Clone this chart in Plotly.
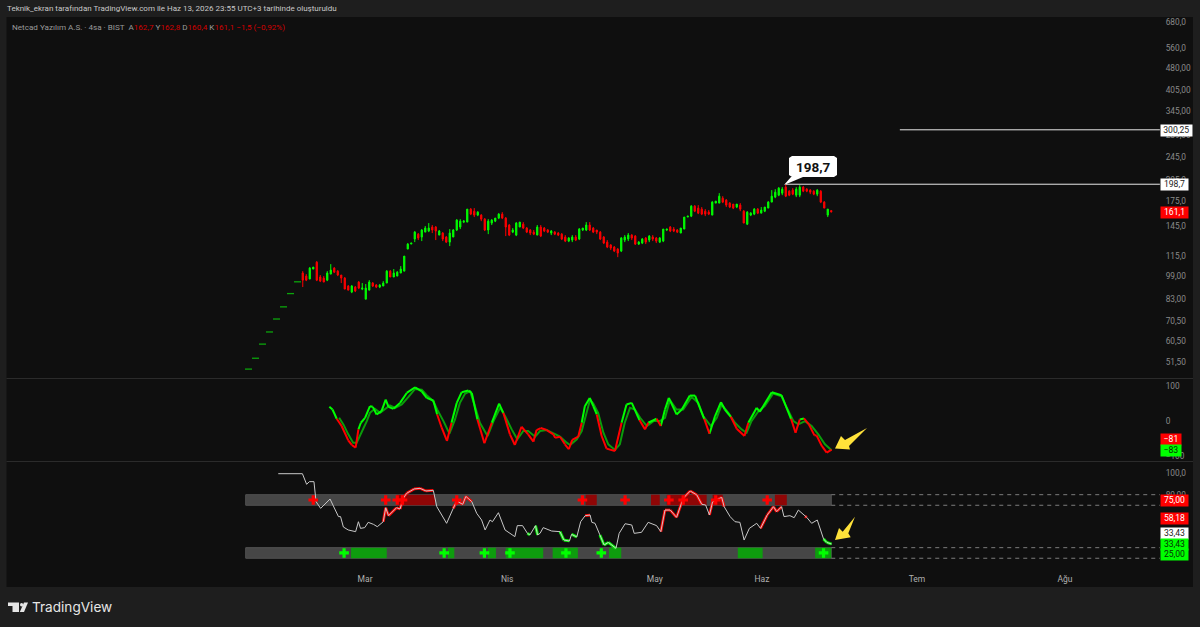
import plotly.graph_objects as go
from plotly.subplots import make_subplots

W, H = 1200, 627
BG, PANEL = '#1e1e1e', '#0f0f0f'
GREEN, RED = '#00ff00', '#ff0000'
LABEL = '#8a8a8a'
FONT = 'Roboto, Liberation Sans, sans-serif'

# --- price pane, 4h bars (one entry per bar)
opens = [
  48.7, 48.7, 52.9, 52.9, 58.9, 58.9, 64.6, 64.6, 71.3, 71.3, 78.2, 78.2, 86.5, 86.5, 94.6, 94.6,
  101.3, 99, 96.8, 104.4, 110, 98.3, 97.5, 96, 100.5, 105.2,
  102.8, 99.8, 97.5, 91.8, 87.7, 91.1, 94.6, 89.7, 83.1, 89,
  93.9, 92.5, 91.1, 91.8, 93.9, 102.8, 98.3, 99, 101.3, 102.8,
  121.5, 126.2, 131.1, 136.1, 133.1, 138.2, 139.3, 143.6, 143.6, 135.1,
  137.2, 133.1, 128.1, 133.1, 140.4, 143.6, 149.1, 149.1, 164.5, 162,
  157.2, 157.2, 152.5, 140.4, 148, 150.2, 153.7, 158.4, 153.7, 145.8,
  138.2, 135.1, 143.6, 146.8, 142.5, 140.4, 138.2, 135.1, 143.6, 142.5,
  140.4, 137.2, 138.2, 137.2, 136.1, 133.1, 129.1, 130.1, 133.1, 131.1,
  140.4, 140.4, 145.8, 142.5, 140.4, 138.2, 133.1, 128.1, 125.3, 123.4,
  121.5, 119.7, 130.1, 131.1, 135.1, 134.1, 126.2, 127.2, 132.1, 130.1,
  133.1, 132.1, 128.1, 129.1, 140.4, 143.6, 141.4, 140.4, 137.2, 141.4,
  154.9, 156, 168.3, 165.8, 164.5, 162, 160.8, 157.2, 172.2, 172.2,
  178.8, 176.2, 172.2, 170.9, 167.1, 169.6, 162, 146.8, 157.2, 158.4,
  164.5, 159.6, 162, 165.8, 173.5, 180.2, 182.9, 185.7, 194.4, 188.5,
  190, 182.9, 182.9, 194.4, 191.4, 190, 188.5, 184.3, 188.5, 173.5,
  157.2, 162.7]
highs = [
  48.9, 48.9, 53.1, 53.1, 59.1, 59.1, 64.8, 64.8, 71.5, 71.5, 78.4, 78.4, 86.7, 86.7, 94.8, 94.8,
  102.8, 100.5, 106, 106, 110.9, 99.8, 99, 102.8, 108.4, 106,
  103.6, 99.8, 98.3, 92.5, 92.5, 91.8, 95.3, 93.9, 93.2, 96,
  94.6, 93.2, 93.2, 95.3, 103.6, 103.6, 104.4, 102.8, 106.8, 115.2,
  127.2, 127.2, 139.3, 137.2, 141.4, 144.7, 148, 145.8, 144.7, 140.4,
  138.2, 134.1, 141.4, 141.4, 152.5, 152.5, 151.4, 164.5, 165.8, 165.8,
  162, 158.4, 153.7, 152.5, 152.5, 153.7, 159.6, 160.8, 154.9, 146.8,
  142.5, 149.1, 149.1, 149.1, 143.6, 141.4, 140.4, 145.8, 145.8, 143.6,
  141.4, 140.4, 139.3, 138.2, 137.2, 135.1, 133.1, 135.1, 135.1, 142.5,
  142.5, 149.1, 149.1, 143.6, 140.4, 139.3, 134.1, 130.1, 126.2, 124.3,
  122.4, 133.1, 135.1, 137.2, 136.1, 135.1, 129.1, 132.1, 133.1, 135.1,
  135.1, 133.1, 133.1, 141.4, 141.4, 144.7, 143.6, 141.4, 142.5, 154.9,
  156, 169.6, 169.6, 169.6, 167.1, 164.5, 163.3, 174.8, 174.8, 185.7,
  181.5, 177.5, 173.5, 170.9, 170.9, 172.2, 163.3, 162, 160.8, 165.8,
  165.8, 167.1, 167.1, 174.8, 190, 191.4, 194.4, 194.4, 198.7, 190,
  192.9, 194.4, 197.4, 195.9, 192.9, 191.4, 190, 191.4, 190, 174.8,
  164.5, 162.8]
lows = [
  48.7, 48.7, 52.9, 52.9, 58.9, 58.9, 64.6, 64.6, 71.3, 71.3, 78.2, 78.2, 86.5, 86.5, 94.6, 94.6,
  91.1, 95.3, 96.8, 104.4, 95.3, 94.6, 94.6, 95.3, 100.5, 101.3,
  99, 93.9, 89.7, 89, 87, 87.7, 89.7, 89, 83.1, 89,
  91.1, 90.4, 90.4, 91.8, 93.9, 98.3, 98.3, 99, 101.3, 102.8,
  121.5, 126.2, 128.1, 130.1, 129.1, 138.2, 138.2, 137.2, 130.1, 135.1,
  129.1, 127.2, 124.3, 133.1, 139.3, 141.4, 148, 149.1, 157.2, 154.9,
  156, 150.2, 139.3, 136.1, 145.8, 149.1, 152.5, 152.5, 134.1, 134.1,
  137.2, 134.1, 143.6, 141.4, 137.2, 135.1, 135.1, 135.1, 133.1, 138.2,
  137.2, 135.1, 135.1, 134.1, 130.1, 128.1, 128.1, 128.1, 129.1, 130.1,
  139.3, 139.3, 139.3, 137.2, 136.1, 130.1, 126.2, 122.4, 120.6, 118.8,
  114.3, 118.8, 128.1, 129.1, 130.1, 125.3, 125.3, 126.2, 126.2, 128.1,
  129.1, 127.2, 127.2, 128.1, 139.3, 138.2, 138.2, 137.2, 137.2, 141.4,
  154.9, 154.9, 160.8, 158.4, 157.2, 156, 157.2, 157.2, 172.2, 172.2,
  172.2, 167.1, 165.8, 164.5, 165.8, 162, 148, 145.8, 156, 157.2,
  158.4, 159.6, 160.8, 165.8, 173.5, 178.8, 181.5, 182.9, 180.2, 181.5,
  182.9, 180.2, 180.2, 187.1, 187.1, 184.3, 182.9, 181.5, 172.2, 165.8,
  154.9, 160.4]
closes = [
  48.9, 48.9, 53.1, 53.1, 59.1, 59.1, 64.8, 64.8, 71.5, 71.5, 78.4, 78.4, 86.7, 86.7, 94.8, 94.8,
  96, 96, 105.2, 106, 96, 95.3, 94.6, 101.3, 103.6, 102,
  99.8, 97.5, 89.7, 89, 91.8, 88.4, 90.4, 90.4, 90.4, 94.6,
  91.8, 91.1, 92.5, 93.9, 102.8, 98.3, 101.3, 102, 104.4, 115.2,
  126.2, 127.2, 138.2, 132.1, 140.4, 142.5, 142.5, 140.4, 139.3, 139.3,
  131.1, 128.1, 137.2, 140.4, 151.4, 150.2, 150.2, 164.5, 158.4, 157.2,
  160.8, 152.5, 140.4, 150.2, 151.4, 153.7, 158.4, 153.7, 143.6, 135.1,
  140.4, 148, 149.1, 142.5, 138.2, 137.2, 136.1, 143.6, 134.1, 139.3,
  138.2, 139.3, 136.1, 135.1, 131.1, 129.1, 132.1, 133.1, 130.1, 141.4,
  142.5, 145.8, 140.4, 138.2, 138.2, 131.1, 127.2, 123.4, 122.4, 119.7,
  117.9, 132.1, 133.1, 135.1, 132.1, 126.2, 128.1, 131.1, 128.1, 134.1,
  131.1, 129.1, 132.1, 141.4, 141.4, 139.3, 139.3, 138.2, 142.5, 154.9,
  156, 168.3, 162, 159.6, 158.4, 158.4, 158.4, 173.5, 174.8, 181.5,
  173.5, 169.6, 167.1, 165.8, 170.9, 164.5, 148, 160.8, 159.6, 164.5,
  159.6, 163.3, 167.1, 173.5, 181.5, 187.1, 192.9, 191.4, 181.5, 182.9,
  184.3, 191.4, 194.4, 188.5, 188.5, 187.1, 184.3, 190, 173.5, 165.8,
  164.5, 161.1]
bars = list(range(len(closes)))
FLAT_BARS = 16  # limit-up days at the start, each pair prints as a flat dash

price_ticks = [680, 560, 480, 405, 345, 289, 245, 205, 175, 145, 115, 99, 83, 70.5, 60.5, 51.5]
price_labels = ['680,0', '560,0', '480,00', '405,00', '345,00', '289,00', '245,0', '205,0', '175,0', '145,0',
                '115,0', '99,00', '83,00', '70,50', '60,50', '51,50']
level_high = [154, 260.9], [198.7, 198.7]
level_top = [186.6, 260.9], [300.25, 300.25]

time_ticks = [33.8, 74.4, 116.6, 147.2, 191.5, 233.8]
time_labels = ['Mar', 'Nis', 'May', 'Haz', 'Tem', 'Ağu']

# --- momentum pane
k_x = [23.6, 24.5, 25.7, 27.1, 29, 30, 31.1, 31.9, 32.6, 33.8, 35.2, 36, 37.1, 38.5, 39.7, 40.5, 41.9, 43.8, 45.7, 48.1,
       50, 51.4, 53.3, 54.4, 55.7, 57.2, 58.5, 60, 61.4, 63.3, 64.3, 65.9, 67.9, 70, 72.1, 73.3, 75.2, 76.6, 78.5, 80.4,
       81.9, 82.8, 84, 85.7, 87.6, 88.1, 89.5, 90.9, 92, 93, 94.7, 95.7, 96.6, 98, 99, 100, 101.4, 102.8, 105.2, 107.1,
       108.5, 110, 112.2, 113.8, 114.7, 117.1, 118.3, 119.5, 120.6, 122.8, 124.3, 126.6, 128.1, 130.7, 132.2, 133.8,
       135.5, 136.6, 138.3, 140, 142.2, 143.3, 145.7, 146.6, 150, 152.8, 155.5, 156.8, 158, 159.2, 160.6, 162.2, 162.8,
       164.3, 165.7, 167.1]
k_val = [40.7, 33.1, 6.7, -14, -54.7, -67.9, -75.4, -23.5, -4.6, 9.5, 42.6, 40.7, 19, 28.4, 61.5, 40.7, 35, 52, 80.3, 96.4,
         85, 66.2, 58.6, 19, -18.8, -56.5, -4.6, 52, 82.2, 87, 80.3, 4.8, -63.1, -4.6, 50.1, 23.7, -37.7, -67.9, -16, -37.7,
         -58.4, -25.4, -19.7, -25.4, -37.7, -47.1, -44.3, -66, -80.1, -53.7, -44.3, -4.6, 42.6, 66.2, 42.6, 19, -42.4, -78.3, -84.9, -4.6,
         47.3, 52, 3, -23.5, -4.6, 6.7, -14, 33.1, 66.2, 19, 33.1, 72.8, 72.8, 6.7, -35.8, 14.3,
         53.9, 33.1, 12.4, -21.6, -42.4, -4.6, 37.9, 26.5, 82.2, 73.7, 6.7, -33, 4.8, 7.7, -9.3, -40.5, -40.5,
         -70.7, -89.6, -81]
k_red_runs = [(25.7, 31.9), (54.4, 58.5), (65.9, 70), (73.3, 95.7), (100, 107.1), (112.2, 114.7), (117.1, 118.3),
              (130.7, 132.2), (138.3, 143.3), (155.5, 158), (159.2, 167.1)]
k_green_runs = [(0, 25.7), (31.9, 54.4), (58.5, 65.9), (70, 73.3), (95.7, 100), (107.1, 112.2), (114.7, 117.1),
                (118.3, 130.7), (132.2, 138.3), (143.3, 155.5), (158, 159.2)]
d_x = [26.4, 27.6, 29, 30.4, 31.4, 32.8, 34.3, 35.2, 36.6, 38.1, 39.5, 40.9, 42.4, 44.3, 46.2, 48.1, 50, 51.4, 53.3, 54.4,
       56.2, 57.9, 59.5, 60.9, 62.4, 63.8, 64.9, 66.6, 68.8, 70.5, 72.4, 73.8, 75.7, 77.3, 79, 80.4, 82.4, 83.8, 85.7, 87.6,
       89.5, 91.4, 92.4, 94.3, 95.7, 97.1, 98.1, 99, 100.4, 101.9, 103.3, 105.2, 106.6, 108, 109.5, 110.9, 112.4, 114.3, 116.2, 118,
       119.5, 120.9, 122.8, 124.7, 127.1, 129, 130.4, 132.6, 134.3, 135.7, 137.6, 139.5, 141.4, 142.8, 144.2, 146.2, 148, 150.4, 152.8, 154.3,
       156.2, 157.6, 159.5, 161.4, 163.3, 165.2, 167.1]
d_val = [9.5, -9.3, -37.7, -61.3, -61.3, -32.9, 0.1, 23.7, 35, 23.7, 33.1, 44.5, 37.9, 47.3, 69, 91.7, 89.8, 73.7, 56.7, 33.1,
         0.1, -35.8, 4.8, 52, 78.5, 85, 52, -4.6, -42.4, 0.1, 37.9, 14.3, -23.5, -51.8, -28.2, -28.2, -44.3, -28.2, -25.4, -34.8,
         -44.3, -61.3, -67.9, -51.8, -28.2, 23.7, 61.5, 50.1, 23.7, -33, -66, -82, -66, -4.6, 37.9, 33.1, 9.5, -14, 0.1, 0.1,
         9.5, 59.6, 33.1, 33.1, 69, 52, 14.3, -14, 9.5, 47.3, 23.7, -4.6, -23.5, -33, 0.1, 28.4, 42.6, 78.5, 70.9, 37.9,
         0.1, -9.3, 0.1, -14, -37.7, -66, -83]
osc_ticks = [100, 0, -100]
osc_labels = ['100', '0', '−100']

# --- RSI pane
rsi_x = [9, 15.9, 17.1, 17.9, 19.2, 19.8, 21.1, 23.8, 26.2, 26.8, 27.6, 29, 31.1, 31.9, 32.5, 33.7, 34.7, 36.2, 37.3, 39,
         39.7, 40.5, 42.8, 43.8, 44.7, 45.7, 47.8, 49.5, 51.2, 53.3, 54.3, 57.1, 59, 60, 61.7, 62.6, 64.3, 65.7, 67.1, 68.1,
         69.5, 70.2, 71.9, 73.8, 76.6, 77.3, 78.8, 80.2, 80.9, 82.5, 83.1, 83.8, 84.7, 87.1, 89.5, 90.6, 92.2, 92.8, 94.3, 95.4,
         96.7, 98.1, 98.6, 99.5, 100.9, 102.1, 103.3, 105.5, 106.4, 108.1, 110, 110.7, 112.8, 114.7, 117.1, 118.3, 119.5, 121, 122.8, 124.7,
         126.7, 128.6, 130, 131.1, 132.2, 133.1, 135.7, 136.4, 138.1, 139.5, 140.9, 142.1, 143.6, 145.7, 146.8, 148.7, 150.5, 151.4, 152.8, 153.5,
         155.2, 156.4, 157.6, 159.5, 160, 161.4, 163, 164.8, 165.7, 167.1]
rsi_val = [99.8, 99.8, 89.8, 92.3, 92.3, 73.4, 67.1, 75.9, 59.3, 59.3, 49.5, 46.7, 45.1, 54.5, 48.2, 48.9, 53.9, 52, 49.8, 54.5,
           67.7, 60.2, 67.7, 66.5, 76.6, 81.3, 85.4, 86, 83.5, 84.1, 68.7, 53, 67.1, 74, 70.9, 78.4, 73.4, 62.4, 56.1, 46.7,
           56.1, 54.5, 63, 46.7, 40.4, 50.8, 50.8, 43.5, 42, 50.8, 42, 43.5, 48.9, 45.7, 45.1, 37.2, 36.3, 42.6, 40.1, 54.5,
           60.2, 60.8, 53.9, 53, 42, 32.5, 35, 29.4, 43.5, 52.6, 51.4, 43.5, 44.5, 53.9, 50.8, 45.1, 65.5, 65.5, 58.6, 76.6,
           83.5, 79.7, 70.9, 70.3, 60.8, 73.4, 77.5, 68.7, 59.3, 54.5, 53.9, 37.2, 48.2, 53, 48.2, 60.8, 68.7, 64, 68.7, 59.3,
           60.2, 58.3, 65.5, 59.6, 58.6, 53, 56.1, 38.2, 35, 33.43]
rsi_red_runs = [(39, 53.3), (59, 64.3), (96.7, 98.1), (118.3, 130), (132.2, 136.4), (146.8, 152.8), (159.5, 160)]
rsi_green_runs = [(80.2, 80.9), (82.5, 83.1), (89.5, 92.2), (92.8, 94.3), (100.9, 105.5), (164.8, 167.1)]
rsi_ticks = [100, 80]
rsi_labels = ['100,0', '80,00']
dash_levels = [80, 70, 30, 20]

band_span = [-0.3, 167]
upper_band = [70, 80]
lower_band = [20, 30]
band_red = [(42.8, 53.8), (96.8, 100), (115.5, 118), (120, 131.4), (133.1, 136), (150.9, 154.3)]
band_green = [(29.8, 40), (57.5, 59.3), (68.9, 71.2), (74, 84.7), (87.4, 94.6), (103.5, 107), (140.3, 147.4), (162.4, 167)]
cross_red_x = [19, 39.7, 43, 44.5, 60, 95.9, 108.1, 120.6, 124.7, 134, 148.7]
cross_green_x = [27.8, 56.4, 67.9, 75.2, 91.2, 101.3, 164.8]


def segments(xs, ys, runs):
  # pieces of a line whose right end sits in one of the runs, gaps as None
  ox, oy = [], []
  for i in range(1, len(xs)):
    if any(a < xs[i] <= b for a, b in runs):
      ox += [xs[i - 1], xs[i], None]
      oy += [ys[i - 1], ys[i], None]
  return ox, oy


def fx(px):
  return px / W


def fy(py):
  return 1 - py / H


fig = make_subplots(rows=3, cols=1, shared_xaxes=True)

fig.add_trace(go.Candlestick(
  x=bars[FLAT_BARS:], open=opens[FLAT_BARS:], high=highs[FLAT_BARS:], low=lows[FLAT_BARS:], close=closes[FLAT_BARS:],
  increasing=dict(line=dict(color=GREEN, width=1), fillcolor=GREEN),
  decreasing=dict(line=dict(color=RED, width=1), fillcolor=RED),
), row=1, col=1)
flat_x, flat_y = [], []
for i in range(0, FLAT_BARS, 2):
  flat_x += [bars[i] - 0.5, bars[i + 1] + 0.5, None]
  flat_y += [closes[i], closes[i + 1], None]
fig.add_trace(go.Scatter(x=flat_x, y=flat_y, mode='lines', line=dict(color='#0ba50b', width=1.3)), row=1, col=1)
for xs, ys in (level_high, level_top):
  fig.add_trace(go.Scatter(x=xs, y=ys, mode='lines', line=dict(color='#e8e8e8', width=1)), row=1, col=1)

fig.add_trace(go.Scatter(x=d_x, y=d_val, mode='lines', line=dict(color='#0b9c0b', width=2)), row=2, col=1)
gx, gy = segments(k_x, k_val, k_green_runs)
rx, ry = segments(k_x, k_val, k_red_runs)
fig.add_trace(go.Scatter(x=gx, y=gy, mode='lines', line=dict(color=GREEN, width=2)), row=2, col=1)
fig.add_trace(go.Scatter(x=rx, y=ry, mode='lines', line=dict(color=RED, width=2)), row=2, col=1)

gx, gy = segments(rsi_x, rsi_val, rsi_green_runs)
rx, ry = segments(rsi_x, rsi_val, rsi_red_runs)
fig.add_trace(go.Scatter(x=gx, y=gy, mode='lines', line=dict(color=GREEN, width=2.8)), row=3, col=1)
fig.add_trace(go.Scatter(x=rx, y=ry, mode='lines', line=dict(color=RED, width=2.8)), row=3, col=1)
fig.add_trace(go.Scatter(x=rsi_x, y=rsi_val, mode='lines', line=dict(color='#c8c8c8', width=1)), row=3, col=1)
fig.add_trace(go.Scatter(x=cross_red_x, y=[75] * len(cross_red_x), mode='markers',
                         marker=dict(symbol='cross', size=8, color=RED)), row=3, col=1)
fig.add_trace(go.Scatter(x=cross_green_x, y=[25] * len(cross_green_x), mode='markers',
                         marker=dict(symbol='cross', size=8, color=GREEN)), row=3, col=1)

shapes = [
  dict(type='rect', xref='paper', yref='paper', x0=fx(6.5), x1=fx(1193), y0=fy(587), y1=fy(17),
       fillcolor=PANEL, line_width=0, layer='below'),
  dict(type='line', xref='paper', yref='paper', x0=fx(6.5), x1=fx(1193), y0=fy(378.5), y1=fy(378.5),
       line=dict(color='#2b2b2b', width=1), layer='below'),
  dict(type='line', xref='paper', yref='paper', x0=fx(6.5), x1=fx(1193), y0=fy(461.5), y1=fy(461.5),
       line=dict(color='#2b2b2b', width=1), layer='below'),
]
# the dashes only read as dashes past the band, on the band they are a faint edge
for y0, y1 in (upper_band, lower_band):
  shapes.append(dict(type='rect', xref='x3', yref='y3', x0=band_span[0], x1=band_span[1], y0=y0, y1=y1,
                     fillcolor='#464646', line=dict(color='#525252', width=1), layer='below'))
for a, b in band_red:
  shapes.append(dict(type='rect', xref='x3', yref='y3', x0=a, x1=b, y0=upper_band[0], y1=upper_band[1],
                     fillcolor='#8f0606', line_width=0, layer='below'))
for a, b in band_green:
  shapes.append(dict(type='rect', xref='x3', yref='y3', x0=a, x1=b, y0=lower_band[0], y1=lower_band[1],
                     fillcolor='#0e9c0e', line_width=0, layer='below'))
for lev in dash_levels:
  shapes.append(dict(type='line', xref='x3', yref='y3', x0=band_span[1], x1=260.9, y0=lev, y1=lev,
                     line=dict(color='#7c7c7c', width=1, dash='4px,4px'), layer='below'))


def poly(points, color):
  path = 'M' + ' L'.join(f'{fx(x):.5f},{fy(y):.5f}' for x, y in points) + ' Z'
  return dict(type='path', xref='paper', yref='paper', path=path, fillcolor=color, line_width=0)


# hand drawn arrows, the callout box and the logo sit on the picture, not on the data
shapes.append(poly([(835, 448.5), (841, 436), (845, 440), (867, 428), (849, 446), (850, 449.5)], '#ffe23a'))
shapes.append(poly([(835, 540), (839, 528), (842.7, 531.7), (855, 516.7), (848.3, 533.3), (850.7, 537.3)], '#ffe23a'))
shapes.append(poly([(784, 185), (791, 177), (803, 177)], '#ffffff'))
shapes.append(poly([(792, 156), (834, 156), (837, 158), (837, 175), (834, 177), (792, 177), (789, 175), (789, 158)], '#ffffff'))
shapes.append(poly([(8, 602.5), (19, 602.5), (19, 612), (12.5, 612), (12.5, 606), (8, 606)], '#e6e6e6'))
shapes.append(poly([(24, 602.5), (28, 602.5), (24, 612), (19.8, 612)], '#e6e6e6'))
shapes.append(dict(type='circle', xref='paper', yref='paper', x0=fx(20), x1=fx(23.2), y0=fy(606.5), y1=fy(603),
                   fillcolor='#e6e6e6', line_width=0))

annotations = [
  dict(text='Teknik_ekran tarafından TradingView.com ile Haz 13, 2026 23:55 UTC+3 tarihinde oluşturuldu',
       x=fx(5), y=fy(9), font=dict(size=8, color='#c8c8c8')),
  dict(text='Netcad Yazılım A.S. · 4sa · BIST  '
            'A<span style="color:#d20000">162,7</span> Y<span style="color:#d20000">162,8</span> '
            'D<span style="color:#d20000">160,4</span> K<span style="color:#d20000">161,1</span> '
            '<span style="color:#d20000">−1,5 (−0,92%)</span>',
       x=fx(10), y=fy(27), font=dict(size=8.1, color='#9a9a9a')),
  dict(text='TradingView', x=fx(30), y=fy(607), font=dict(size=13.6, color='#e6e6e6', family='Inter')),
  dict(text='<b>198,7</b>', x=fx(813), y=fy(166.5), xanchor='center', font=dict(size=13.5, color='#111111')),
]
for a in annotations:
  a.update(xref='paper', yref='paper', showarrow=False)
  a.setdefault('xanchor', 'left')
  a.setdefault('yanchor', 'middle')

# value tags on the right edge: text, centre y, width, fill, ink
tags = [
  ('300,25', 130.5, 30.5, '#ffffff', '#222222'), ('198,7', 184.5, 27, '#ffffff', '#222222'),
  ('161,1', 212, 27, RED, '#ffffff'), ('−81', 439, 20, RED, '#ffffff'), ('−83', 450.5, 20, GREEN, '#053005'),
  ('75,00', 500, 27, RED, '#ffffff'), ('58,18', 518, 27, RED, '#ffffff'), ('33,43', 533, 27, '#ffffff', '#222222'),
  ('33,43', 544, 27, GREEN, '#053005'), ('25,00', 554.5, 27, GREEN, '#053005'),
]
for text, yc, w, fill, ink in tags:
  annotations.append(dict(text=text, xref='paper', yref='paper', x=fx(1160), y=fy(yc), xanchor='left', yanchor='middle',
                          width=w, height=10.5, bgcolor=fill, borderpad=0, showarrow=False, align='center',
                          font=dict(size=8.6, color=ink)))

fig.update_layout(
  width=W, height=H, margin=dict(l=0, r=0, t=0, b=0), autosize=False,
  paper_bgcolor=BG, plot_bgcolor='rgba(0,0,0,0)', showlegend=False, hovermode=False,
  font=dict(family=FONT, size=9, color=LABEL),
  shapes=shapes, annotations=annotations, boxgap=0.5,
)
hidden = dict(showgrid=False, zeroline=False, showline=False, ticks='outside', ticklen=3, tickcolor='rgba(0,0,0,0)',
              side='right', tickfont=dict(size=8.3, color=LABEL))
fig.update_layout(
  yaxis=dict(domain=[fy(378), fy(17)], type='log', range=[1.660, 2.849], tickmode='array',
             tickvals=price_ticks, ticktext=price_labels, **hidden),
  yaxis2=dict(domain=[fy(461), fy(379)], range=[-113.6, 120], tickmode='array',
              tickvals=osc_ticks, ticktext=osc_labels, **hidden),
  yaxis3=dict(domain=[fy(566), fy(463)], range=[12.7, 109.9], tickmode='array',
              tickvals=rsi_ticks, ticktext=rsi_labels, **hidden),
)
xaxis = dict(domain=[fx(6), fx(1160)], range=[-68.79, 260.93], showgrid=False, zeroline=False, showline=False,
             rangeslider=dict(visible=False))
fig.update_layout(xaxis=dict(showticklabels=False, **xaxis), xaxis2=dict(showticklabels=False, **xaxis),
                  xaxis3=dict(tickmode='array', tickvals=time_ticks, ticktext=time_labels, ticks='outside', ticklen=5,
                              tickcolor='rgba(0,0,0,0)', tickfont=dict(size=8.5, color='#b0b0b0'), **xaxis))

fig.write_html("out.html", config={'displayModeBar': False},
               post_script="document.body.style.margin='0';document.documentElement.style.overflow='hidden';")
